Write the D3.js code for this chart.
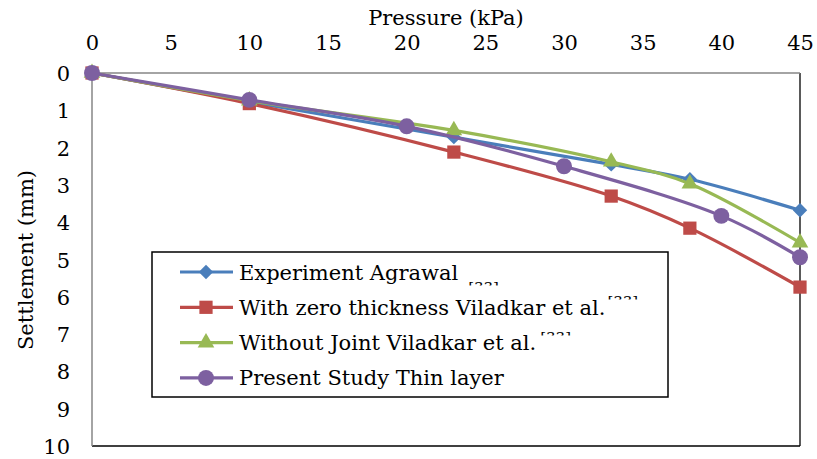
<!DOCTYPE html>
<html>
<head>
<meta charset="utf-8">
<script src="https://cdn.jsdelivr.net/npm/d3@7"></script>
<style>
html,body{margin:0;padding:0;background:#fff;}
svg{display:block;}
text{font-family:"DejaVu Serif",serif;fill:#000;}
</style>
</head>
<body>
<svg id="chart" width="817" height="459"></svg>
<script>
// ---- data ----
const xTicks = [0,5,10,15,20,25,30,35,40,45];
const yTicks = [0,1,2,3,4,5,6,7,8,9,10];
const expX = [0,10,23,33,38,45];
const expY = [0,0.77,1.72,2.45,2.85,3.68];
const zeroX = [0,10,23,33,38,45];
const zeroY = [0,0.82,2.12,3.3,4.16,5.74];
const noJointX = [0,10,23,33,38,45];
const noJointY = [0,0.74,1.54,2.38,2.97,4.55];
const presentX = [0,10,20,30,40,45];
const presentY = [0,0.72,1.43,2.5,3.83,4.94];
const seriesNames = ["Experiment Agrawal","With zero thickness Viladkar et al.","Without Joint Viladkar et al.","Present Study Thin layer"];
const seriesSup = ["[33]","[33]","[33]",""];
const colors = ["#4A7EBB","#BE4B48","#98B954","#7D60A0"];

const diamond = {draw(ctx,size){const s=Math.sqrt(size)/Math.SQRT2*1.0; const h=Math.sqrt(size)*0.72; ctx.moveTo(0,-h);ctx.lineTo(h,0);ctx.lineTo(0,h);ctx.lineTo(-h,0);ctx.closePath();}};

const series = [
  {name:seriesNames[0], xs:expX, ys:expY, color:colors[0], sym:diamond, size:100},
  {name:seriesNames[1], xs:zeroX, ys:zeroY, color:colors[1], sym:d3.symbolSquare, size:175},
  {name:seriesNames[2], xs:noJointX, ys:noJointY, color:colors[2], sym:d3.symbolTriangle, size:120},
  {name:seriesNames[3], xs:presentX, ys:presentY, color:colors[3], sym:d3.symbolCircle, size:200}
];

const svg = d3.select("#chart");
const L=92, R=800, T=73, B=446;
const x = d3.scaleLinear().domain([0,45]).range([L,R]);
const y = d3.scaleLinear().domain([0,10]).range([T,B]);

// plot border
svg.append("line").attr("x1",R).attr("x2",R).attr("y1",T).attr("y2",B).attr("stroke","#000").attr("stroke-width",1.3);
svg.append("line").attr("x1",L).attr("x2",R).attr("y1",B).attr("y2",B).attr("stroke","#000").attr("stroke-width",1.3);
svg.append("line").attr("x1",L).attr("x2",R).attr("y1",T).attr("y2",T).attr("stroke","#868686").attr("stroke-width",1.5);
svg.append("line").attr("x1",L).attr("x2",L).attr("y1",T).attr("y2",B).attr("stroke","#868686").attr("stroke-width",1.5);

// axes
const xa = svg.append("g").attr("transform",`translate(0,${T-23})`)
  .call(d3.axisTop(x).tickValues(xTicks).tickSize(0).tickPadding(0));
xa.select(".domain").remove();
xa.selectAll("text").style("font-family","DejaVu Serif").style("font-size","21px").attr("fill","#000");

const ya = svg.append("g").attr("transform",`translate(${L-22},0)`)
  .call(d3.axisLeft(y).tickValues(yTicks).tickSize(0).tickPadding(0));
ya.select(".domain").remove();
ya.selectAll("text").style("font-family","DejaVu Serif").style("font-size","21px").attr("fill","#000").attr("dy","0.36em");

svg.append("text").attr("x",446).attr("y",25).attr("text-anchor","middle").style("font-size","21px").text("Pressure (kPa)");
svg.append("text").attr("transform","translate(33,260) rotate(-90)").attr("text-anchor","middle").style("font-size","21px").text("Settlement (mm)");

// series
const line = d3.line().curve(d3.curveCatmullRom.alpha(0.5)).x(d=>x(d[0])).y(d=>y(d[1]));
series.forEach(s=>{
  const pts = s.xs.map((v,i)=>[v,s.ys[i]]);
  svg.append("path").datum(pts).attr("d",line).attr("fill","none").attr("stroke",s.color).attr("stroke-width",3.2);
  svg.append("g").selectAll("path").data(pts).join("path")
    .attr("transform",d=>`translate(${x(d[0])},${y(d[1])})`)
    .attr("d",d3.symbol().type(s.sym).size(s.size)).attr("fill",s.color);
});

// legend
const lg = svg.append("g");
lg.append("rect").attr("x",152).attr("y",252).attr("width",516).attr("height",145).attr("fill","#fff").attr("stroke","#000").attr("stroke-width",1.5);
const defs = svg.append("defs");
const supBand = [282, 296, 332];
const supDx = [10, 2, 4];
series.forEach((s,i)=>{
  const cy = 272 + i*35.3;
  lg.append("line").attr("x1",180).attr("x2",233).attr("y1",cy).attr("y2",cy).attr("stroke",s.color).attr("stroke-width",3.2);
  lg.append("path").attr("transform",`translate(206,${cy})`).attr("d",d3.symbol().type(s.sym).size(s.size)).attr("fill",s.color);
  const t = lg.append("text").attr("x",239).attr("y",cy+7.5).style("font-size","21px").text(s.name);
  if (seriesSup[i]) {
    const w = t.node().getComputedTextLength();
    const sx = 239 + w + supDx[i];
    defs.append("clipPath").attr("id","sc"+i).append("rect").attr("x",sx).attr("y",supBand[i]).attr("width",60).attr("height",3.5);
    lg.append("text").attr("x",sx).attr("y",supBand[i]+11).attr("clip-path",`url(#sc${i})`).style("font-size","15px").attr("fill", i===0?"#c8c8c8":"#000").text(seriesSup[i]);
  }
});
</script>
</body>
</html>
